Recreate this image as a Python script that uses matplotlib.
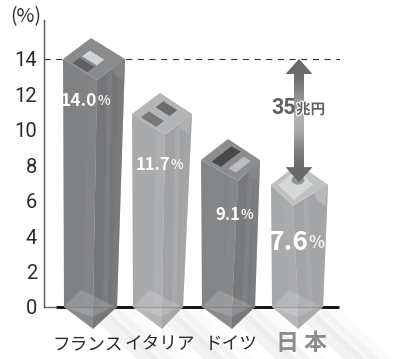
import numpy as np
import matplotlib
matplotlib.use('Agg')
import matplotlib.pyplot as plt
from matplotlib.patches import Polygon, Ellipse
import matplotlib.patheffects as pe

countries = ['フランス', 'イタリア', 'ドイツ', '日 本']
values = [14.0, 11.7, 9.1, 7.6]
yticks = [0, 2, 4, 6, 8, 10, 12, 14]
gap_label = '35'
gap_unit = '兆円'

# box outlines, x in axis units
left = [63, 132, 201, 271]
right_top = [125, 192, 260, 328]
right_bot = [117, 183, 255, 323]
front_top = [97, 165, 238, 293]
front_tip = [93, 162, 232, 298]
back_top = [91, 160, 228, 298]
top_drop = [0.0, 0.8, 0.8, 0.7]

side_l = ['#808183', '#a9aaac', '#848587', '#a8a9ab']
side_r = ['#757678', '#a1a2a4', '#797a7c', '#a3a4a6']
strip = ['#858688', '#b0b1b3', '#88898b', '#adaeb0']
lid = ['#8a8b8d', '#b4b5b7', '#8c8d8f', '#bfc0c1']
tip_l = ['#8b8c8e', '#b4b5b7', '#8b8c8e', '#b8b9bb']
tip_r = ['#77787a', '#a6a7a9', '#78797b', '#a9aaac']

# little panels on the lids: colour, u range, v range
panels = [
    [('#5f6062', .05, .30, .24, .68), ('#d3d4d5', .38, .65, .25, .68)],
    [('#77787a', .06, .34, .22, .68), ('#6a6b6d', .56, .84, .24, .66)],
    [('#48494b', .12, .85, .20, .45), ('#bcbdbe', .20, .75, .60, .80)],
    [('#d6d8d8', .14, .86, .14, .86)],
]

# value label anchors: x where number ends, y in pixels, sizes
lab_x = [97, 170, 240, 308]
lab_y = [101, 165, 215, 243]
lab_size = [12.5, 12, 12, 19]
pct_size = [9.5, 9.5, 9.5, 12]

W, H = 407, 359
Y0, Y14 = 307, 59
PX = (Y0 - Y14) / 14.0


def py(pix):
    return (Y0 - pix) / PX


jp = ['Noto Sans CJK JP', 'DejaVu Sans']
narrow = ['Roboto', 'Noto Sans CJK JP', 'DejaVu Sans']

fig = plt.figure(figsize=(W / 100, H / 100), dpi=100)
ax = fig.add_axes([44 / W, (H - Y0) / H, (340 - 44) / W, (Y0 - 20) / H])
ax.set_xlim(44, 340)
ax.set_ylim(0, py(20))
for s in ['top', 'right', 'bottom']:
    ax.spines[s].set_visible(False)
ax.spines['left'].set_color('#555555')
ax.spines['left'].set_linewidth(1.0)
ax.set_xticks([])
ax.set_yticks(yticks)
ax.set_yticklabels([str(t) for t in yticks], family=narrow, fontsize=14.5, color='#2b2b2b')
ax.tick_params(axis='y', length=0, pad=5)
ax.text(10, py(17), '(%)', family=jp, fontsize=14, color='#333333', va='center', clip_on=False)


def poly(pts, color, z=3, alpha=1.0):
    ax.add_patch(Polygon(pts, closed=True, fc=color, ec='none', alpha=alpha, zorder=z, clip_on=False))


# floor shadows fading to the lower right
for i in range(4):
    xb = right_bot[i]
    for k, (off, a) in enumerate([(0, .22), (14, .14), (28, .07)]):
        x1 = xb - 30 + off
        poly([(x1, py(312)), (x1 + 16, py(307)), (x1 + 72, py(359)), (x1 + 50, py(359))], '#c8c9cb', z=1, alpha=a)

# baseline and reference line
ax.plot([56, 339], [0, 0], color='#111111', lw=2.1, solid_capstyle='butt', zorder=2, clip_on=False)
ax.plot([44, 56], [0, 0], color='#666666', lw=1.0, zorder=2.5, clip_on=False)
ax.plot([44, 340], [14, 14], color='#333333', lw=0.8, dashes=(5.5, 5), zorder=2)

for i, v in enumerate(values):
    c = v - top_drop[i]
    rise = 21 / PX
    xl, xr, xb = left[i], right_top[i], right_bot[i]
    xf, xt, xa = front_top[i], front_tip[i], back_top[i]
    fy = c - rise
    tip = -22 / PX

    # side faces
    poly([(xl, c), (xf, fy), (xt, 0), (xl + 1, 0)], side_l[i])
    poly([(xf, fy), (xr, c), (xb, 0), (xt, 0)], side_r[i])
    # vertical strips down the faces
    poly([(xf - 9, fy + .1), (xf, fy), (xt, 0), (xt - 9, 0)], strip[i], alpha=.8)
    poly([(xf + 10, fy + .3), (xf + 15, fy + .55), (xt + 15, 0), (xt + 10, 0)], strip[i], alpha=.55)
    poly([(xr - 6, c), (xr, c), (xb, 0), (xb - 5, 0)], side_l[i], alpha=.45)
    # bevel corner on the right of the lid
    poly([(xr - 14, c - .25), (xr, c), (xr - 3, c - 1.2), (xr - 12, c - .8)], lid[i], z=3.5, alpha=.7)

    # lid
    poly([(xl, c), (xa, c + rise), (xr, c), (xf, fy)], lid[i], z=4)
    for col, u0, u1, v0, v1 in panels[i]:
        pts = []
        for u, w in [(u0, v0), (u1, v0), (u1, v1), (u0, v1)]:
            pts.append((xl + u * (xa - xl) + w * (xf - xl), c + u * rise - w * rise))
        poly(pts, col, z=4.5)

    # base below the zero line and the floor seen through the box
    poly([(xl + 1, 0), (xt, 0), (xt, tip)], tip_l[i], z=3.2)
    poly([(xt, 0), (xb, 0), (xt, tip)], tip_r[i], z=3.2)
    poly([(xl + 1, 0), (xl + 18, 17 / PX), (xb - 3, 1.0 / PX), (xt, tip * .45)], '#ffffff', z=3.4, alpha=.16)
    ax.plot([xl + 1, xb], [0, 0], color='#6a6b6f', lw=0.9, alpha=.4, zorder=3.5, clip_on=False)

    # value label, the percent sign is set smaller
    ax.text(lab_x[i], py(lab_y[i]), f'{v:.1f}', family=jp, fontweight='bold', fontsize=lab_size[i],
            color='white', ha='right', va='center', zorder=6)
    ax.text(lab_x[i] + 0.5, py(lab_y[i]), '%', family=jp, fontweight='bold', fontsize=pct_size[i],
            color='#f1f1f1', ha='left', va='center', zorder=6)

# Japan lid gets a round cap under the arrow
ax.add_patch(Ellipse((298, py(180)), 13, 9 / PX, fc='#8b9596', ec='none', zorder=5))

# gap arrow with a soft shading across it
top, bot = values[0], values[3] - top_drop[3] + .15
ax_x, hw, sw, hh = 299, 13.5, 5, 15 / PX
arrow = Polygon([(ax_x, top), (ax_x + hw, top - hh), (ax_x + sw, top - hh), (ax_x + sw, bot + hh),
                 (ax_x + hw, bot + hh), (ax_x, bot), (ax_x - hw, bot + hh), (ax_x - sw, bot + hh),
                 (ax_x - sw, top - hh), (ax_x - hw, top - hh)],
                closed=True, fc='none', ec='none', transform=ax.transData)
ax.add_patch(arrow)
shade = np.array([0, .12, .5, .72, .5, .12, 0])
img = ax.imshow(shade[:, None], extent=(ax_x - hw, ax_x + hw, bot, top), aspect='auto', cmap='gray',
                vmin=-.9, vmax=1.35, zorder=5.5, interpolation='bicubic')
img.set_clip_path(arrow)
ax.set_xlim(44, 340)
ax.set_ylim(0, py(20))

ax.text(296, py(108), gap_label, family=narrow, fontweight='bold', fontsize=15.5, color='#606165',
        ha='right', va='center', zorder=7)
ax.text(296, py(109), gap_unit, family=jp, fontweight='bold', fontsize=10.5, color='#606165',
        ha='left', va='center', zorder=7,
        path_effects=[pe.withStroke(linewidth=1.6, foreground='white')])

# category names under the boxes
lab_centers = [88, 160, 231, 301]
for i, name in enumerate(countries):
    if i == 3:
        ax.text(lab_centers[i], py(344), name, family=jp, fontweight='bold', fontsize=16.5, color='#8a8b8d',
                ha='center', va='center', clip_on=False)
    else:
        ax.text(lab_centers[i], py(344), name, family=jp, fontsize=12.7, color='#2b2b2b',
                ha='center', va='center', clip_on=False)

fig.savefig('out.png', dpi=100)
